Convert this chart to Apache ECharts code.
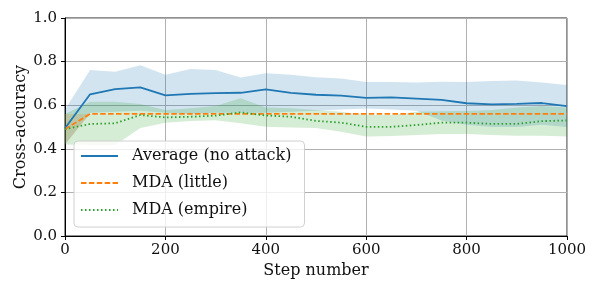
<!DOCTYPE html>
<html>
<head>
<meta charset="utf-8">
<script src="https://cdn.jsdelivr.net/npm/echarts@6/dist/echarts.min.js"></script>
<style>
html,body{margin:0;padding:0;background:#fff;}
#chart{width:598px;height:292px;}
</style>
</head>
<body>
<div id="chart"></div>
<script>
const steps = [0,50,100,150,200,250,300,350,400,450,500,550,600,650,700,750,800,850,900,950,1000];

const avgMean = [0.494,0.650,0.674,0.682,0.645,0.652,0.655,0.657,0.673,0.657,0.648,0.644,0.634,0.636,0.630,0.624,0.609,0.604,0.606,0.610,0.596];
const avgLow  = [0.420,0.565,0.570,0.575,0.565,0.560,0.565,0.565,0.565,0.570,0.575,0.580,0.585,0.580,0.575,0.530,0.510,0.500,0.500,0.510,0.500];
const avgHigh = [0.580,0.761,0.754,0.783,0.740,0.766,0.761,0.727,0.746,0.740,0.728,0.722,0.706,0.706,0.704,0.708,0.706,0.711,0.713,0.704,0.693];

const littleMean = [0.490,0.560,0.560,0.560,0.560,0.560,0.560,0.560,0.560,0.560,0.560,0.560,0.560,0.560,0.560,0.560,0.560,0.560,0.560,0.560,0.560];
const littleLow  = [0.420,0.560,0.560,0.560,0.560,0.560,0.560,0.560,0.560,0.560,0.560,0.560,0.560,0.560,0.560,0.560,0.560,0.560,0.560,0.560,0.560];
const littleHigh = [0.560,0.560,0.560,0.560,0.560,0.560,0.560,0.560,0.560,0.560,0.560,0.560,0.560,0.560,0.560,0.560,0.560,0.560,0.560,0.560,0.560];

const empireMean = [0.490,0.514,0.517,0.555,0.544,0.547,0.552,0.567,0.553,0.547,0.528,0.520,0.501,0.501,0.509,0.520,0.520,0.514,0.514,0.527,0.530];
const empireLow  = [0.420,0.417,0.417,0.495,0.520,0.528,0.531,0.517,0.501,0.498,0.495,0.478,0.456,0.459,0.463,0.468,0.468,0.463,0.460,0.460,0.456];
const empireHigh = [0.560,0.616,0.616,0.606,0.578,0.586,0.596,0.632,0.590,0.586,0.578,0.570,0.555,0.555,0.570,0.572,0.573,0.578,0.590,0.596,0.590];

const names = ['Average (no attack)','MDA (little)','MDA (empire)'];
const colors = ['#1f77b4','#ff7f0e','#2ca02c'];
const bandColors = ['rgba(31,119,180,0.2)','rgba(255,127,14,0.2)','rgba(44,160,44,0.2)'];

const FONT = 'DejaVu Serif';

function pairs(arr){ return steps.map((s,i)=>[s,arr[i]]); }

function band(id, lo, hi, color){
  return {
    type:'custom', name:'band-'+id, silent:true, z:1,
    data: steps.map((s,i)=>[s, lo[i], hi[i]]),
    encode:{x:0, y:[1,2]},
    renderItem:function(params, api){
      if (params.dataIndex !== 0) return null;
      const pts = [];
      for (let i=0;i<steps.length;i++) pts.push(api.coord([steps[i], hi[i]]));
      for (let i=steps.length-1;i>=0;i--) pts.push(api.coord([steps[i], lo[i]]));
      return {type:'polygon', shape:{points:pts}, style:{fill:color, stroke:null}};
    }
  };
}

const chart = echarts.init(document.getElementById('chart'), null, {renderer:'canvas'});
chart.setOption({
  animation:false,
  grid:{left:65, right:31, top:18, bottom:56, show:true, borderColor:'#222', borderWidth:1, backgroundColor:'transparent'},
  legend:{
    data:names.map(n=>({name:n})),
    orient:'vertical',
    left:74, top:141,
    padding:[7,13,9,6],
    itemWidth:37, itemHeight:14, itemGap:11,
    itemStyle:{opacity:0},
    backgroundColor:'rgba(255,255,255,0.8)',
    borderColor:'#d0d0d0', borderWidth:1, borderRadius:4,
    textStyle:{fontFamily:FONT, fontSize:16, color:'#111', lineHeight:16, padding:[0,0,0,9]}
  },
  xAxis:{
    type:'value', min:0, max:1000, interval:200,
    name:'Step number', nameLocation:'middle', nameGap:27, nameMoveOverlap:false,
    nameTextStyle:{fontFamily:FONT, fontSize:16, color:'#111'},
    axisLine:{show:true, lineStyle:{color:'#000', width:1}},
    axisTick:{show:true, length:4, lineStyle:{color:'#000'}},
    axisLabel:{fontFamily:FONT, fontSize:15, color:'#111', margin:7, formatter:v=>String(v)},
    splitLine:{show:true, lineStyle:{color:'#b0b0b0', width:1}}
  },
  yAxis:{
    type:'value', min:0, max:1, interval:0.2,
    name:'Cross-accuracy', nameLocation:'middle', nameGap:36, nameMoveOverlap:false,
    nameTextStyle:{fontFamily:FONT, fontSize:16, color:'#111'},
    axisLine:{show:true, lineStyle:{color:'#000', width:1}},
    axisTick:{show:true, length:4, lineStyle:{color:'#000'}},
    axisLabel:{fontFamily:FONT, fontSize:15, color:'#111', margin:8, formatter:v=>v.toFixed(1)},
    splitLine:{show:true, lineStyle:{color:'#b0b0b0', width:1}}
  },
  series:[
    band('a', avgLow, avgHigh, bandColors[0]),
    band('l', littleLow, littleHigh, bandColors[1]),
    band('e', empireLow, empireHigh, bandColors[2]),
    {type:'line', name:names[0], data:pairs(avgMean), symbol:'none', z:5,
     itemStyle:{color:colors[0]}, lineStyle:{color:colors[0], width:1.8, type:'solid'}},
    {type:'line', name:names[1], data:pairs(littleMean), symbol:'none', z:5,
     itemStyle:{color:colors[1]}, lineStyle:{color:colors[1], width:1.8, type:[5.5,2.4]}},
    {type:'line', name:names[2], data:pairs(empireMean), symbol:'none', z:5,
     itemStyle:{color:colors[2]}, lineStyle:{color:colors[2], width:1.8, type:[1.5,2.5]}}
  ]
});
</script>
</body>
</html>
